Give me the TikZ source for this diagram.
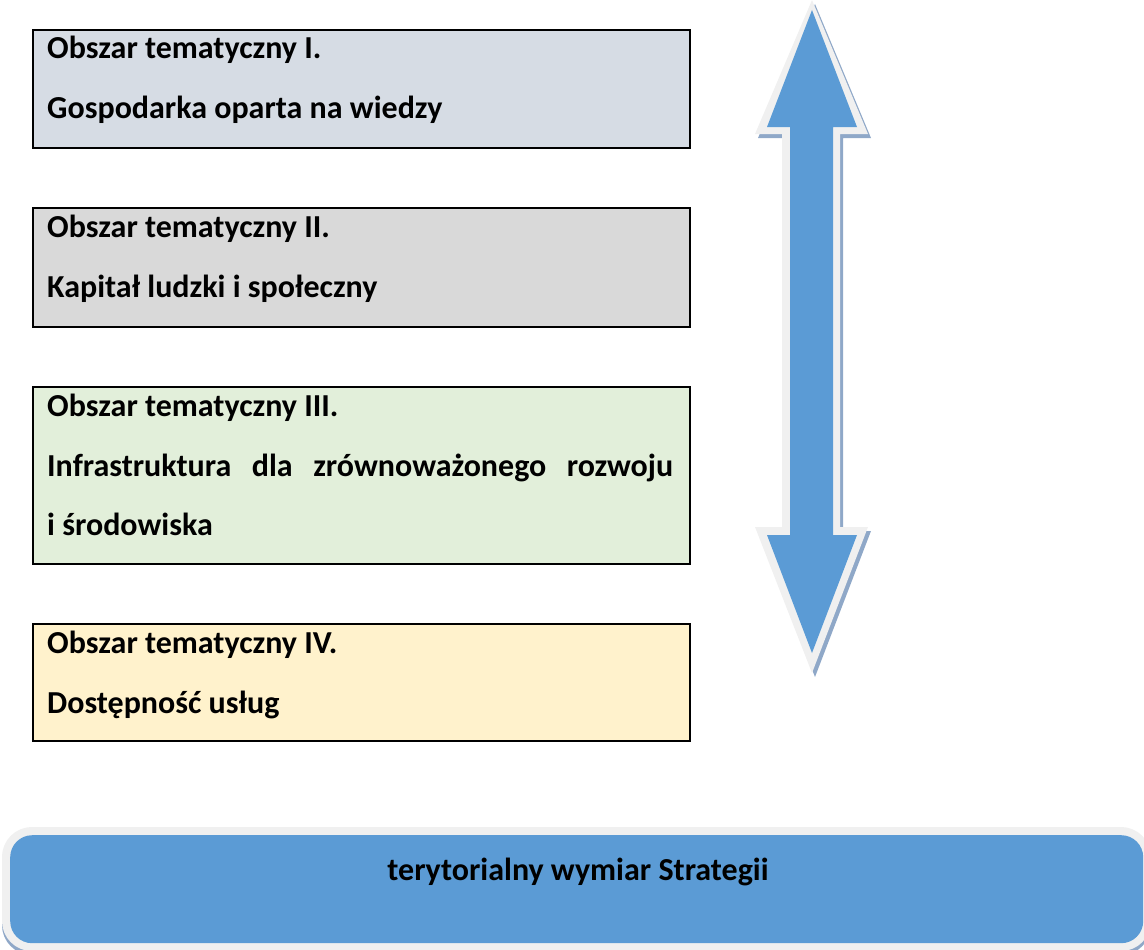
\documentclass[tikz,border=0pt]{standalone}
\usepackage{fontspec}
\setmainfont{Carlito}
\definecolor{bA}{HTML}{D6DCE4}
\definecolor{bB}{HTML}{D9D9D9}
\definecolor{bC}{HTML}{E2EFDA}
\definecolor{bD}{HTML}{FFF2CC}
\definecolor{blu}{HTML}{5B9BD5}
\definecolor{rim}{HTML}{F0F0F0}
\definecolor{shd}{HTML}{8FA8C8}
\begin{document}
\begin{tikzpicture}[x=1pt,y=-1pt,
  tbox/.style={draw=black, line width=2pt, minimum width=657pt, anchor=north west, inner sep=0pt},
  lbl/.style={anchor=base west, font=\bfseries\fontsize{32}{32}\selectfont, inner sep=0pt},
  rimline/.style={draw=rim, line width=16pt, line join=round},
  shadowline/.style={draw=shd, fill=shd, line width=16pt, line join=round}]
\useasboundingbox (0,0) rectangle (1144,950);
% boxes
\node[tbox, fill=bA, minimum height=118pt] (b1) at (32,29) {};
\node[tbox, fill=bB, minimum height=119pt] (b2) at (32,207) {};
\node[tbox, fill=bC, minimum height=177pt] (b3) at (32,386) {};
\node[tbox, fill=bD, minimum height=117pt] (b4) at (32,623) {};
\node[lbl] (t1a) at (47,59) {Obszar tematyczny I.};
\node[lbl] (t1b) at (47,118.5) {Gospodarka oparta na wiedzy};
\node[lbl] (t2a) at (47,237.5) {Obszar tematyczny II.};
\node[lbl] (t2b) at (47,297) {Kapitał ludzki i społeczny};
\node[lbl] (t3a) at (47,416.5) {Obszar tematyczny III.};
\node[lbl, text width=626pt] (t3b) at (47,476) {Infrastruktura\hfill dla\hfill zrównoważonego\hfill rozwoju};
\node[lbl] (t3c) at (47,535) {i środowiska};
\node[lbl] (t4a) at (47,653.5) {Obszar tematyczny IV.};
\node[lbl] (t4b) at (47,713) {Dostępność usług};
% double arrow
\def\arrowshape{(812,10) -- (767,127) -- (790,127) -- (790,535) -- (767,535) -- (812,653) -- (857,535) -- (833,535) -- (833,127) -- (857,127) -- cycle}
\def\arrowouter{(812,0) -- (755,134) -- (782,134) -- (782,527) -- (755,527) -- (812,673) -- (868,527) -- (840,527) -- (840,134) -- (868,134) -- cycle}
\path[fill=shd, shift={(3,4)}] \arrowouter;
\path[fill=rim] \arrowouter;
\path[fill=blu] \arrowshape;
% bottom band
\path[shadowline, rounded corners=22pt] (10,839) rectangle (1143,947);
\path[rimline, fill=rim, rounded corners=22pt] (10,835) rectangle (1143,943);
\node[fill=blu, rounded corners=22pt, minimum width=1133pt, minimum height=108pt, anchor=north west, inner sep=0pt] (band) at (10,835) {};
\node[font=\bfseries\fontsize{32}{32}\selectfont, anchor=base, inner sep=0pt] (bt) at (578,880) {terytorialny wymiar Strategii};
\end{tikzpicture}
\end{document}
